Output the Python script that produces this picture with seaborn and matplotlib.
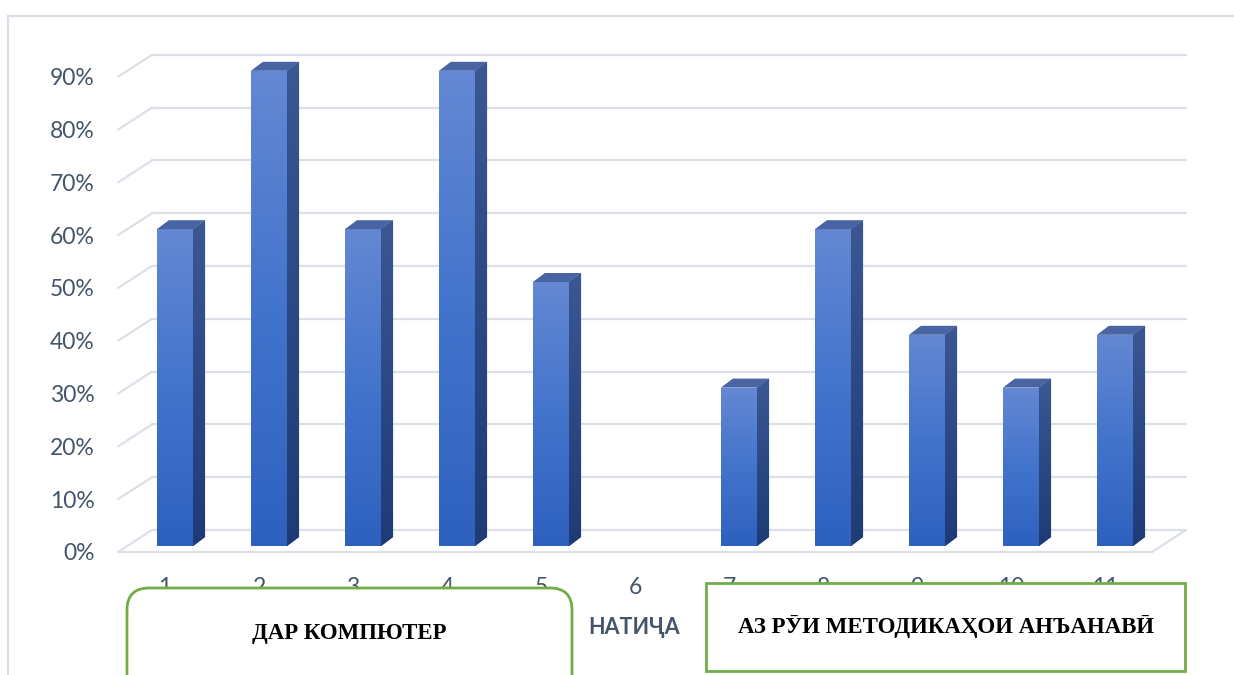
import numpy as np
import pandas as pd
import matplotlib
matplotlib.use("Agg")
import matplotlib.pyplot as plt
import seaborn as sns
from matplotlib.transforms import ScaledTranslation, IdentityTransform
from matplotlib.patches import Polygon, Rectangle, FancyBboxPatch
from matplotlib.lines import Line2D
from matplotlib.colors import LinearSegmentedColormap

# ---- data ----
categories = ['1', '2', '3', '4', '5', '6', '7', '8', '9', '10', '11']
values = [0.60, 0.90, 0.60, 0.90, 0.50, 0.0, 0.30, 0.60, 0.40, 0.30, 0.40]
y_ticks = [0.0, 0.1, 0.2, 0.3, 0.4, 0.5, 0.6, 0.7, 0.8, 0.9]
y_tick_labels = ['0%', '10%', '20%', '30%', '40%', '50%', '60%', '70%', '80%', '90%']
axis_title = 'НАТИҶА'
left_box_text = 'ДАР КОМПЮТЕР'
right_box_text = 'АЗ РӮИ МЕТОДИКАҲОИ АНЪАНАВӢ'

sns.set_theme(style='white')
plt.rcParams['font.family'] = ['Lato', 'DejaVu Sans']

W, H = 1234, 675
fig = plt.figure(figsize=(W / 100, H / 100), dpi=100)
fig.patch.set_facecolor('white')

ax = fig.add_axes([118 / W, (H - 552) / H, 1034 / W, 528 / H])
ax.patch.set_alpha(0)

df = pd.DataFrame({'cat': categories, 'val': values})
sns.barplot(data=df, x='cat', y='val', order=categories, color='#4472C4',
            width=0.385, saturation=1, ax=ax, zorder=3)

ax.set_autoscale_on(False)
ax.set_xlim(-0.5, len(categories) - 0.5)
ax.set_ylim(0, 1.0)
for s in ax.spines.values():
    s.set_visible(False)
ax.set_xlabel('')
ax.set_ylabel('')
ax.set_yticks(y_ticks)
ax.set_yticklabels(y_tick_labels)
ax.tick_params(axis='y', length=0, pad=17, labelsize=16.5, labelcolor='#44546A')
ax.tick_params(axis='x', length=0, pad=18, labelsize=16.5, labelcolor='#44546A')

ident = IdentityTransform()
grid_col = '#DCE0E8'
DEPTH_X, DEPTH_Y = 34, 22     # wall depth in pixels
BAR_DX, BAR_DY = 10, 6        # bar plane offset from the front plane
SIDE_DX, SIDE_DY = 12, 9      # bar depth

xmin, xmax = ax.get_xlim()
# back wall grid lines and left wall diagonals
for yv in y_ticks:
    x0, y0 = ax.transData.transform((xmin, yv))
    x1, _ = ax.transData.transform((xmax, yv))
    ax.add_line(Line2D([x0 + DEPTH_X, x1 + DEPTH_X], [y0 + DEPTH_Y, y0 + DEPTH_Y],
                       transform=ident, color=grid_col, lw=1.6, zorder=0.5, clip_on=False))
    ax.add_line(Line2D([x0, x0 + DEPTH_X], [y0, y0 + DEPTH_Y],
                       transform=ident, color=grid_col, lw=1.6, zorder=0.5, clip_on=False))
# floor front edge and right diagonal
fx0, fy0 = ax.transData.transform((xmin, 0))
fx1, _ = ax.transData.transform((xmax, 0))
ax.add_line(Line2D([fx0, fx1], [fy0, fy0], transform=ident, color=grid_col, lw=1.6,
                   zorder=0.5, clip_on=False))
ax.add_line(Line2D([fx1, fx1 + DEPTH_X], [fy0, fy0 + DEPTH_Y], transform=ident,
                   color=grid_col, lw=1.6, zorder=0.5, clip_on=False))

front_cmap = LinearSegmentedColormap.from_list('front', ['#2E61BF', '#4374CC', '#6488D3'])
side_cmap = LinearSegmentedColormap.from_list('side', ['#1E3B76', '#3B5794'])
grad = np.linspace(0, 1, 256).reshape(-1, 1)
off = ax.transData + ScaledTranslation(BAR_DX / 100, BAR_DY / 100, fig.dpi_scale_trans)

for patch in list(ax.patches):
    h = patch.get_height()
    bx = patch.get_x()
    bw = patch.get_width()
    patch.set_transform(off)
    patch.set_edgecolor('none')
    if h <= 0:
        patch.set_visible(False)
        continue
    im = ax.imshow(grad, extent=(bx, bx + bw, 0, h), origin='lower', cmap=front_cmap,
                   aspect='auto', transform=off, zorder=3.1, interpolation='bilinear')
    im.set_clip_path(patch)
    (X0, Y0) = off.transform((bx, 0))
    (X1, Y1) = off.transform((bx + bw, h))
    side = Polygon([(X1, Y0), (X1, Y1), (X1 + SIDE_DX, Y1 + SIDE_DY), (X1 + SIDE_DX, Y0 + SIDE_DY)],
                   closed=True, transform=ident, facecolor='#2A4886', edgecolor='none',
                   zorder=3.2, clip_on=False)
    ax.add_patch(side)
    sim = ax.imshow(grad, extent=(X1, X1 + SIDE_DX, Y0, Y1 + SIDE_DY), origin='lower',
                    cmap=side_cmap, aspect='auto', transform=ident, zorder=3.3,
                    interpolation='bilinear')
    sim.set_clip_path(side)
    top = Polygon([(X0, Y1), (X1, Y1), (X1 + SIDE_DX, Y1 + SIDE_DY), (X0 + SIDE_DX, Y1 + SIDE_DY)],
                  closed=True, transform=ident, facecolor='#4864A2', edgecolor='none',
                  zorder=3.4, clip_on=False)
    ax.add_patch(top)

ax.set_xlim(-0.5, len(categories) - 0.5)
ax.set_ylim(0, 1.0)
ax.set_aspect('auto')

# chart border
fig.add_artist(Rectangle((8, -30), 1300, H - 16 + 30, transform=ident, fill=False,
                         edgecolor='#D9DEE7', lw=1.6, zorder=1))

# text boxes
green = '#70AD47'
fig.add_artist(FancyBboxPatch((127, H - 700), 445, 700 - 588,
                              boxstyle='round,pad=0,rounding_size=22', transform=ident,
                              facecolor='white', edgecolor=green, lw=2, zorder=2))
fig.add_artist(Rectangle((706, H - 671), 1185 - 706, 671 - 583, transform=ident,
                         facecolor='white', edgecolor=green, lw=2, zorder=2))

fig.text(349 / W, 1 - 634 / H, left_box_text, ha='center', va='center', fontsize=16.5,
         fontweight='bold', color='black', family=['Liberation Serif', 'DejaVu Serif'], zorder=3)
fig.text(946 / W, 1 - 627 / H, right_box_text, ha='center', va='center', fontsize=16.5,
         fontweight='bold', color='black', family=['Liberation Serif', 'DejaVu Serif'], zorder=3)
fig.text(634 / W, 1 - 627 / H, axis_title, ha='center', va='center', fontsize=15.5,
         fontweight='bold', color='#44546A', family=['Lato', 'DejaVu Sans'], zorder=3)

fig.savefig('out.png', dpi=100)
